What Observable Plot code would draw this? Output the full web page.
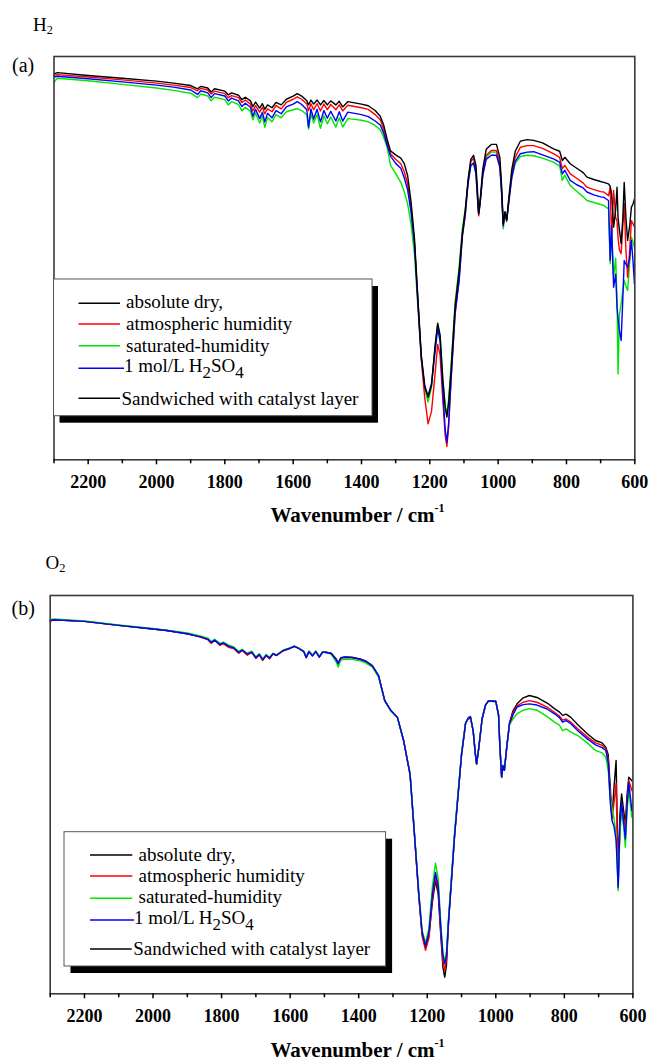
<!DOCTYPE html>
<html><head><meta charset="utf-8">
<script src="https://cdn.jsdelivr.net/npm/d3@7"></script>
<script src="https://cdn.jsdelivr.net/npm/@observablehq/plot@0.6"></script>
<style>
html,body{margin:0;padding:0;background:#fff;}
#wrap{position:relative;width:648px;height:1062px;overflow:hidden;background:#fff;}
.panel{position:absolute;left:0;}
#overlay{position:absolute;left:0;top:0;pointer-events:none;}
</style>
</head><body>
<div id="wrap"><div id="top" class="panel" style="top:0"></div><div id="bot" class="panel" style="top:540px"></div></div>
<script>
// ---------- DATA ----------
const majorTicks = [2200, 2000, 1800, 1600, 1400, 1200, 1000, 800, 600];
const minorTicks = [2300, 2100, 1900, 1700, 1500, 1300, 1100, 900, 700];
const legendLabels = ["absolute dry,", "atmospheric humidity", "saturated-humidity", "1 mol/L H2SO4", "Sandwiched with catalyst layer"];
const legendColors = ["#000000", "#ff0000", "#00e600", "#0000ff", "#000000"];
const seriesColors = {dry: "#000000", atm: "#ff0000", sat: "#00e600", acid: "#0000ff"};

// (a) H2 panel
const topWave = [2300,2290,2200,2100,2000,1950,1900,1880,1870,1850,
 1840,1830,1800,1790,1780,1760,1750,1740,1725,1718,
 1710,1698,1690,1683,1675,1662,1650,1635,1620,1600,
 1588,1575,1560,1555,1548,1540,1530,1520,1510,1500,
 1490,1475,1465,1455,1440,1420,1400,1380,1360,1345,
 1335,1325,1315,1300,1285,1275,1265,1255,1245,1235,
 1225,1215,1205,1195,1185,1177,1170,1162,1155,1150,
 1145,1138,1126,1114,1105,1096,1088,1080,1072,1065,
 1060,1057,1053,1045,1035,1020,1005,995,990,985,
 980,975,968,960,950,935,915,896,870,838,
 820,812,805,789,770,751,740,720,700,691,
 677,672,668,662,656,652,649,645,640,635,
 631,626,621,615,610,605,601];
const topDry = [95.7,96.0,95.3,94.6,93.9,93.4,92.8,92.0,92.6,92.2,
 91.2,92.0,91.4,90.5,91.0,90.4,89.3,89.9,89.0,87.6,
 88.7,87.2,88.3,86.9,88.0,87.3,88.6,88.0,89.4,90.2,
 90.8,90.2,89.0,88.0,89.2,88.2,89.2,88.0,89.1,88.0,
 89.0,88.0,88.9,87.5,88.8,88.5,88.2,87.8,86.6,85.2,
 83.0,79.5,76.6,75.6,74.8,73.5,70.5,64.0,55.0,40.0,
 26.0,18.5,15.5,18.5,28.0,33.9,31.0,20.0,13.0,10.6,
 14.0,22.0,38.0,47.0,56.0,62.0,69.5,74.5,75.5,73.0,
 66.0,61.2,64.0,72.0,77.0,78.2,78.2,75.0,68.0,58.5,
 61.5,59.5,65.5,72.0,76.5,79.0,79.4,79.2,78.6,77.1,
 76.5,74.2,75.0,73.4,72.3,71.2,70.1,69.5,69.0,68.8,
 68.4,67.8,66.0,57.7,62.0,67.6,60.0,57.0,53.6,60.0,
 68.8,60.0,54.4,58.0,62.6,63.5,64.7];
const topAtm = [95.3,95.5,94.9,94.2,93.4,92.9,92.3,91.5,92.1,91.7,
 90.7,91.4,90.8,89.8,90.3,89.8,88.6,89.2,88.2,86.5,
 87.8,86.2,87.4,85.8,87.0,86.3,87.8,87.0,88.6,89.4,
 90.0,89.4,88.2,86.6,88.3,86.8,88.3,86.5,88.2,86.8,
 88.1,86.8,88.0,86.5,87.9,87.6,87.3,86.9,85.6,84.3,
 82.0,78.8,75.9,74.5,73.4,71.5,68.5,62.5,54.0,40.0,
 25.0,15.5,8.9,12.0,21.0,28.6,26.0,15.0,6.0,3.3,
 8.0,19.5,36.0,45.0,55.0,61.0,69.0,74.0,74.7,72.0,
 65.0,60.5,63.5,71.0,75.5,76.7,76.7,73.5,67.0,58.5,
 61.0,59.3,65.0,71.0,75.0,77.5,77.9,77.9,77.2,75.9,
 75.0,72.2,73.0,70.9,69.8,68.6,67.6,67.0,66.5,66.4,
 65.5,67.6,55.0,66.8,60.0,59.3,55.0,52.0,51.1,58.0,
 63.5,52.0,45.3,52.0,59.3,58.5,57.7];
const topSat = [93.7,94.6,94.0,93.1,92.2,91.6,90.9,89.8,90.7,90.2,
 89.0,89.9,89.3,88.0,88.8,88.1,86.5,87.4,86.4,84.3,
 86.0,83.5,85.3,82.4,84.9,83.8,85.6,84.8,86.3,86.8,
 87.1,86.6,85.6,82.0,85.8,83.5,85.6,82.2,85.3,83.3,
 85.0,82.5,84.8,82.5,84.6,84.4,84.2,83.8,82.9,81.8,
 80.0,77.5,73.0,71.0,68.8,66.5,63.5,58.5,51.0,38.0,
 25.0,17.5,14.3,18.0,27.5,33.5,30.5,20.0,13.5,11.4,
 15.0,23.0,39.0,48.0,57.0,62.5,69.0,73.0,73.4,71.0,
 64.0,61.0,63.5,70.5,75.0,76.3,76.3,73.0,66.0,57.3,
 61.0,59.0,64.5,70.0,73.5,75.2,75.5,75.4,74.8,73.8,
 72.8,69.3,70.6,68.0,66.6,65.2,64.3,63.8,63.3,63.1,
 62.2,48.6,58.0,45.3,50.0,40.0,21.3,36.0,38.7,42.0,
 44.5,43.0,42.0,49.0,55.2,54.0,52.7];
const topAcid = [94.9,95.1,94.5,93.7,92.9,92.4,91.7,90.6,91.5,91.0,
 89.8,90.8,90.2,89.0,89.7,89.0,87.6,88.4,87.4,85.2,
 86.9,84.6,86.2,83.8,85.9,84.8,86.6,85.8,87.5,88.2,
 88.8,88.1,86.8,82.5,87.0,84.5,86.9,83.8,86.6,84.7,
 86.4,84.0,86.3,84.0,86.2,85.9,85.6,85.1,84.0,83.0,
 81.0,78.0,75.3,73.5,72.3,70.0,67.0,61.5,53.5,39.0,
 25.5,18.0,15.9,19.0,26.5,32.5,29.5,17.0,7.5,4.4,
 9.0,19.7,36.5,44.5,55.5,61.0,68.5,73.0,73.6,71.0,
 64.5,61.0,63.5,70.5,74.5,75.5,75.5,72.5,66.5,58.0,
 61.4,59.5,64.5,70.0,74.0,75.9,76.3,76.4,75.6,74.6,
 73.8,70.9,71.8,69.3,68.2,67.4,66.4,65.7,65.2,65.1,
 64.3,49.4,58.0,42.8,46.0,37.8,35.0,32.0,29.6,40.0,
 49.4,48.5,47.8,50.0,54.4,49.0,43.6];

// (b) O2 panel
const botWave = [2300,2290,2200,2100,2000,1960,1900,1880,1860,1840,
 1830,1820,1805,1795,1780,1765,1750,1740,1725,1712,
 1700,1690,1680,1670,1660,1650,1640,1620,1600,1588,
 1575,1560,1553,1545,1535,1525,1515,1505,1495,1480,
 1465,1460,1452,1440,1420,1396,1380,1360,1342,1324,
 1306,1287,1269,1250,1239,1225,1215,1205,1195,1185,
 1176,1168,1160,1154,1149,1144,1138,1120,1100,1088,
 1080,1074,1066,1060,1056,1050,1040,1030,1022,1000,
 992,988,983,979,975,968,960,950,938,920,
 902,880,850,829,815,805,795,781,760,733,
 709,690,679,672,666,661,655,649,643,638,
 633,627,622,617,612,608,603];
const botDry = [93.6,93.9,93.5,92.5,91.6,91.2,90.4,90.0,89.6,89.0,
 88.1,88.8,87.6,88.0,87.2,86.8,85.6,86.3,85.2,85.8,
 84.3,85.2,83.8,85.0,84.2,85.4,85.0,86.2,86.8,87.3,
 86.8,86.0,84.5,86.0,85.0,86.0,84.6,85.9,85.8,85.5,
 84.0,82.9,84.4,84.6,84.5,84.1,83.6,82.4,79.9,73.6,
 71.1,69.4,63.6,55.0,42.0,25.0,15.0,11.5,14.5,23.0,
 28.4,25.0,14.0,6.5,4.2,7.0,18.0,40.0,60.0,68.0,
 69.0,69.3,66.0,60.5,57.7,61.5,69.0,72.5,73.5,73.5,
 70.0,62.0,54.4,57.3,56.1,62.0,68.0,71.0,72.8,74.3,
 74.9,74.4,73.0,71.6,70.8,69.9,70.2,69.4,67.5,65.3,
 63.6,63.0,61.9,60.0,52.0,44.0,52.0,58.6,30.0,45.0,
 50.2,46.0,42.7,50.0,54.4,54.0,53.5];
const botAtm = [93.6,93.9,93.5,92.5,91.6,91.2,90.4,90.0,89.5,88.9,
 88.0,88.7,87.5,87.9,87.0,86.7,85.5,86.2,85.0,85.7,
 84.2,85.1,83.7,84.9,84.1,85.3,84.9,86.1,86.7,87.2,
 86.7,85.9,84.4,85.9,84.9,85.9,84.5,85.8,85.7,85.4,
 83.9,82.8,84.3,84.5,84.4,84.0,83.5,82.3,79.8,73.6,
 71.1,69.4,63.6,55.0,42.0,25.0,14.5,10.9,14.0,24.0,
 29.7,26.0,15.0,8.0,5.9,8.5,18.0,40.0,60.0,68.0,
 69.3,69.6,66.0,60.5,57.7,61.5,69.0,72.5,73.5,73.4,
 70.0,62.0,54.4,57.3,56.1,62.0,67.8,70.5,72.3,73.2,
 73.6,73.2,72.0,70.7,69.8,68.7,69.0,68.2,66.5,64.5,
 63.0,62.4,61.5,59.0,50.0,44.0,48.0,52.8,26.5,42.0,
 47.0,44.0,41.8,48.0,53.5,52.5,51.0];
const botSat = [93.9,94.1,93.6,92.6,91.7,91.3,90.6,90.2,89.8,89.3,
 88.5,89.0,88.0,88.3,87.6,87.1,86.0,86.5,85.5,86.0,
 84.6,85.4,84.1,85.2,84.5,85.5,85.1,86.3,86.9,87.3,
 86.8,86.0,84.6,86.0,85.0,86.0,84.7,85.9,85.7,85.2,
 83.2,82.0,83.8,84.0,84.0,83.6,83.1,82.0,79.5,73.5,
 71.0,69.3,63.6,55.2,42.5,26.0,16.0,12.8,16.5,27.0,
 32.8,29.0,17.0,10.0,8.4,10.5,19.0,41.0,60.5,68.0,
 69.3,69.6,66.0,60.5,57.7,61.5,69.0,72.5,73.5,73.4,
 70.0,62.0,54.4,57.3,56.1,62.0,67.5,69.0,70.3,71.2,
 71.6,71.2,69.6,68.2,67.5,66.1,66.5,65.7,64.8,63.0,
 61.1,60.5,59.4,56.0,49.0,46.8,44.0,40.0,25.9,40.0,
 46.0,42.0,36.8,46.0,52.0,48.0,44.3];
const botAcid = [93.7,93.9,93.5,92.5,91.6,91.2,90.4,90.0,89.6,89.0,
 88.2,88.8,87.7,88.1,87.3,86.9,85.7,86.3,85.3,85.8,
 84.4,85.2,83.9,85.0,84.3,85.4,85.0,86.2,86.8,87.2,
 86.7,85.9,84.4,85.9,84.8,85.9,84.5,85.8,85.7,85.4,
 83.8,82.9,84.3,84.5,84.4,84.0,83.5,82.3,79.8,73.6,
 71.1,69.4,63.6,55.0,42.0,25.5,15.5,12.0,15.5,25.0,
 30.5,27.0,16.0,9.5,7.5,9.5,18.0,40.0,60.0,68.0,
 69.3,69.6,66.0,60.5,57.7,61.5,69.0,72.5,73.5,73.4,
 70.0,62.0,54.4,57.3,56.1,62.0,67.8,70.0,72.0,72.6,
 72.8,72.5,71.5,70.3,69.4,68.2,68.6,67.8,66.0,64.0,
 62.5,61.8,61.1,58.0,48.0,43.5,42.0,38.5,26.8,42.0,
 48.0,43.0,38.9,47.0,53.0,50.0,46.0];

// ---------- DRAW ----------
const serif = "'Liberation Serif', 'Times New Roman', serif";
function series(waves, vals) { return waves.map((w, i) => ({w, v: vals[i]})); }

function panel(opts) {
  const lines = opts.order.map(([key, vals]) =>
    Plot.line(series(opts.waves, vals), {x: "w", y: "v", stroke: seriesColors[key], strokeWidth: 1.4}));
  return Plot.plot({
    width: 648, height: opts.height,
    marginTop: opts.mt, marginBottom: opts.mb, marginLeft: opts.ml, marginRight: opts.mr,
    x: {domain: [2300, 600], label: null},
    y: {domain: [0, 100], axis: null},
    style: {fontFamily: serif, fontSize: "18px", fontWeight: "bold", color: "#000", background: "transparent"},
    marks: [
      ...lines,
      Plot.frame({stroke: "#3a3a3a", strokeWidth: 1.6}),
      Plot.axisX({ticks: majorTicks, tickSize: 5, tickPadding: 10, tickFormat: d3.format("d"), label: null,
        fontSize: 18, fontWeight: "bold", fontFamily: serif, strokeWidth: 1.5}),
      Plot.axisX({ticks: minorTicks, tickSize: 4, tickFormat: () => "", label: null, strokeWidth: 1.5})
    ]
  });
}

document.getElementById("top").append(panel({
  waves: topWave, height: 540, mt: 56, mb: 80.7, ml: 53.5, mr: 13.7,
  order: [["sat", topSat], ["atm", topAtm], ["acid", topAcid], ["dry", topDry]]
}));
document.getElementById("bot").append(panel({
  waves: botWave, height: 522, mt: 55, mb: 68.7, ml: 49.7, mr: 15.6,
  order: [["dry", botDry], ["atm", botAtm], ["sat", botSat], ["acid", botAcid]]
}));

// ---------- ANNOTATIONS (titles, legend) ----------
const svg = d3.select("#wrap").append("svg").attr("id", "overlay")
  .attr("width", 648).attr("height", 1062).attr("font-family", serif);

function subText(g, x, y, main, sub, size) {
  const t = g.append("text").attr("x", x).attr("y", y).attr("font-size", size).attr("fill", "#000");
  t.append("tspan").text(main);
  t.append("tspan").attr("font-size", size * 0.65).attr("dy", 3).text(sub);
}
subText(svg, 33, 30.5, "H", "2", 19);
svg.append("text").attr("x", 12).attr("y", 72).attr("font-size", 20).text("(a)");
subText(svg, 45.5, 569, "O", "2", 19);
svg.append("text").attr("x", 11.5).attr("y", 614.5).attr("font-size", 20).text("(b)");

function axisTitle(x, y) {
  const t = svg.append("text").attr("x", x).attr("y", y).attr("font-size", 21).attr("font-weight", "bold");
  t.append("tspan").text("Wavenumber / cm");
  t.append("tspan").attr("font-size", 12).attr("dy", -10).text("-1");
}
axisTitle(270.5, 521.5);
axisTitle(270.5, 1056.5);

function legend(L) {
  const g = svg.append("g");
  g.append("rect").attr("x", L.x + L.sx).attr("y", L.y + L.sy).attr("width", L.w).attr("height", L.h).attr("fill", "#000");
  g.append("rect").attr("x", L.x).attr("y", L.y).attr("width", L.w).attr("height", L.h)
    .attr("fill", "#fff").attr("stroke", "#555").attr("stroke-width", 1);
  legendLabels.forEach((lab, i) => {
    const r = L.rows[i];
    g.append("line").attr("x1", r.x1).attr("x2", r.x2).attr("y1", r.ly).attr("y2", r.ly)
      .attr("stroke", legendColors[i]).attr("stroke-width", 1.5);
    const t = g.append("text").attr("x", r.tx).attr("y", r.by).attr("font-size", 19).attr("fill", "#000");
    if (lab.includes("H2SO4")) {
      t.append("tspan").text("1 mol/L H");
      t.append("tspan").attr("dy", 6).attr("font-size", 17).text("2");
      t.append("tspan").attr("dy", -6).text("SO");
      t.append("tspan").attr("dy", 6).attr("font-size", 17).text("4");
    } else {
      t.text(lab);
    }
  });
}
legend({x: 53.5, y: 279, w: 318.5, h: 136.7, sx: 6, sy: 7, rows: [
  {x1: 78.5, x2: 120, ly: 303.3, tx: 126, by: 308.3},
  {x1: 78.5, x2: 120, ly: 324, tx: 126, by: 330},
  {x1: 78.5, x2: 120, ly: 345.7, tx: 126, by: 351.7},
  {x1: 78.5, x2: 124, ly: 368.3, tx: 124, by: 371.7},
  {x1: 78.5, x2: 120, ly: 398.3, tx: 121.5, by: 405}
]});
legend({x: 64, y: 831.7, w: 321.6, h: 134.3, sx: 6.5, sy: 7, rows: [
  {x1: 90, x2: 132.3, ly: 855, tx: 138.5, by: 860.7},
  {x1: 90, x2: 132.3, ly: 876, tx: 138.5, by: 881.7},
  {x1: 90, x2: 132.3, ly: 898.3, tx: 138.5, by: 903.3},
  {x1: 90, x2: 134, ly: 920, tx: 134, by: 924},
  {x1: 90, x2: 131.7, ly: 949, tx: 133.3, by: 955}
]});
</script>
</body></html>
